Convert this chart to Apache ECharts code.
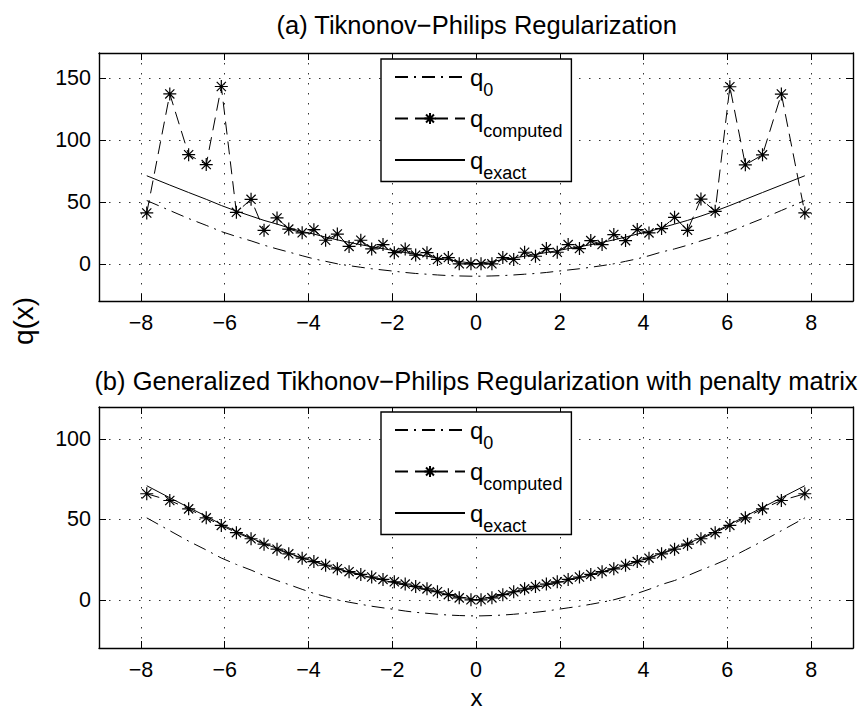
<!DOCTYPE html>
<html><head><meta charset="utf-8">
<script src="https://cdn.jsdelivr.net/npm/echarts@6/dist/echarts.min.js"></script>
<style>html,body{margin:0;padding:0;background:#fff}#c{width:862px;height:711px}</style>
</head><body><div id="c"></div>
<script>
// ---- data ----
const xNodes = [-7.86,-7.31,-6.86,-6.44,-6.08,-5.72,-5.37,-5.06,-4.75,-4.47,-4.15,-3.87,-3.59,-3.31,-3.03,-2.75,-2.49,-2.22,-1.95,-1.69,-1.44,-1.17,-0.92,-0.66,-0.40,-0.12,
                0.12,0.38,0.64,0.90,1.16,1.42,1.68,1.94,2.20,2.47,2.74,3.01,3.29,3.57,3.85,4.13,4.43,4.74,5.05,5.37,5.71,6.06,6.43,6.84,7.29,7.85];
const q0Vals = [51,43,36.5,31,26,22,18.5,15,12,9.5,6.5,4,2,0,-1.5,-2.8,-4,-5,-6,-7,-7.8,-8.4,-9,-9.5,-9.8,-10,
                -10,-9.8,-9.5,-9,-8.4,-7.8,-7,-6,-5,-4,-2.8,-1.5,0,2,4,6.5,9.5,12,15,18.5,22,26,31,36.5,43,51];
const xExact = [-7.86,-7.31,-6.86,-6.44,-6.08,-5.72,-5.37,-5.06,-4.75,-4.47,-4.15,-3.87,-3.59,-3.31,-3.03,-2.75,-2.49,-2.22,-1.95,-1.69,-1.44,-1.17,-0.92,-0.66,-0.40,-0.12,0,
                0.12,0.38,0.64,0.90,1.16,1.42,1.68,1.94,2.20,2.47,2.74,3.01,3.29,3.57,3.85,4.13,4.43,4.74,5.05,5.37,5.71,6.06,6.43,6.84,7.29,7.85];
const exactVals = [71,63.5,57.5,52,47,42.5,38.5,35,32,29,26,24,21.5,19.3,17.3,15.4,13.8,12.2,10.6,9.1,7.6,6.1,4.7,3.3,1.9,0.6,0,
                   0.6,1.9,3.3,4.7,6.1,7.6,9.1,10.6,12.2,13.8,15.4,17.3,19.3,21.5,24,26,29,32,35,38.5,42.5,47,52,57.5,63.5,71];
const computedA = [41,137,88,80,143,41.5,52,27,37,28,25,27.5,19,24,14,19,12,15.5,9,12,7,9,3.5,5,0,0,
                   0,0,5,3.5,9.3,6.1,12.3,9.3,15.5,12.3,18.7,15.5,23.6,18.7,27.6,24.9,28.4,37.5,27,52.2,42.3,142.8,79.8,87.9,136.9,41];
const computedB = [66,61.8,56.6,51,46.3,41.8,38,34.6,31.5,28.6,25.9,23.8,21.5,19.3,17.5,15.8,14.2,12.7,11.2,9.8,8.3,6.8,5,3.2,1.2,0,
                   0,1.2,3.2,5,6.8,8.3,9.8,11.2,12.7,14.2,15.8,17.5,19.3,21.5,23.8,25.9,28.6,31.5,34.6,38,41.8,46.3,51,56.6,61.8,66];
const xTicks = [-8,-6,-4,-2,0,2,4,6,8];
const yTicksA = [0,50,100,150];
const yTicksB = [0,50,100];
const titles = ['(a) Tiknonov\u2212Philips Regularization',
                '(b) Generalized Tikhonov\u2212Philips Regularization with penalty matrix'];
const seriesNames = ['q0','qcomputed','qexact'];
const subscripts = {q0:'0', qcomputed:'computed', qexact:'exact'};
const yName = 'q(x)';
const xName = 'x';

// ---- chart ----
const FONT = 'Liberation Sans';
const chart = echarts.init(document.getElementById('c'), null, {renderer:'svg'});
const fmt = v => String(v).replace('-', '\u2212');
const gridLine = {show:true, lineStyle:{color:'#333', width:1, type:[1.5,8.5]}};
const axLine = {show:true, onZero:false, lineStyle:{color:'#000', width:1.4}};
const NOFILL = 'rgba(0,0,0,0)';

function xAxes(gi){
  return [
    {type:'value', gridIndex:gi, position:'bottom', min:-9, max:9, splitNumber:9,
     axisLine:axLine,
     axisTick:{show:true, inside:true, length:7, customValues:xTicks, lineStyle:{color:'#000', width:1}},
     axisLabel:{show:true, customValues:xTicks, margin:11, fontSize:21.5, fontFamily:FONT, color:'#000', formatter:fmt},
     splitLine:gridLine},
    {type:'value', gridIndex:gi, position:'top', min:-9, max:9, splitNumber:9,
     axisLine:axLine,
     axisTick:{show:true, inside:true, length:7, customValues:xTicks, lineStyle:{color:'#000', width:1}},
     axisLabel:{show:false}, splitLine:{show:false}}
  ];
}
function yAxes(gi, min, max, split, ticks){
  return [
    {type:'value', gridIndex:gi, position:'left', min:min, max:max, splitNumber:split,
     axisLine:axLine,
     axisTick:{show:true, inside:true, length:7, customValues:ticks, lineStyle:{color:'#000', width:1}},
     axisLabel:{show:true, customValues:ticks, margin:8, fontSize:21.5, fontFamily:FONT, color:'#000', formatter:fmt},
     splitLine:gridLine},
    {type:'value', gridIndex:gi, position:'right', min:min, max:max, splitNumber:split,
     axisLine:axLine,
     axisTick:{show:true, inside:true, length:7, customValues:ticks, lineStyle:{color:'#000', width:1}},
     axisLabel:{show:false}, splitLine:{show:false}}
  ];
}
const pairs = (xs, ys) => xs.map((x,i)=>[x, ys[i]]);
const STAR = 'path://M0,-10L0,10M-10,0L10,0M-7.07,-7.07L7.07,7.07M-7.07,7.07L7.07,-7.07';

function seriesFor(gi, computed){
  const xi = gi*2, yi = gi*2;
  return [
    {name:seriesNames[0], type:'line', xAxisIndex:xi, yAxisIndex:yi, data:pairs(xNodes, q0Vals),
     symbol:'none', silent:true, animation:false,
     lineStyle:{color:'#000', width:1, type:[13,6,2,6]}, itemStyle:{color:NOFILL, borderColor:NOFILL, borderWidth:0}},
    {name:seriesNames[1], type:'line', xAxisIndex:xi, yAxisIndex:yi, data:pairs(xNodes, computed),
     symbol:STAR, symbolSize:13, showSymbol:true, silent:true, animation:false,
     lineStyle:{color:'#000', width:1, type:[13,7]},
     itemStyle:{color:'#000', borderColor:'#000', borderWidth:1.2}},
    {name:seriesNames[2], type:'line', xAxisIndex:xi, yAxisIndex:yi, data:pairs(xExact, exactVals),
     symbol:'none', silent:true, animation:false,
     lineStyle:{color:'#000', width:1, type:'solid'}, itemStyle:{color:NOFILL, borderColor:NOFILL, borderWidth:0}}
  ];
}
function legendAt(top){
  return {show:true, left:381, top:top, orient:'vertical', data:seriesNames,
    itemWidth:70, itemHeight:14, itemGap:8, padding:[6,9,0,13],
    backgroundColor:'#fff', borderColor:'#000', borderWidth:1.4, borderRadius:0,
    selectedMode:false,
    formatter: n => '{q|q}{s|' + subscripts[n] + '}',
    textStyle:{color:'#000', fontFamily:FONT,
      rich:{q:{fontSize:24, fontFamily:FONT, color:'#000'},
            s:{fontSize:18, fontFamily:FONT, color:'#000', padding:[25,0,0,0]}}}};
}

const option = {
  backgroundColor:'#fff',
  animation:false,
  grid:[{left:99, top:53, width:754, height:248}, {left:99, top:407, width:754, height:241}],
  xAxis:[...xAxes(0), ...xAxes(1)],
  yAxis:[...yAxes(0,-30,170,4,yTicksA), ...yAxes(1,-30,120,3,yTicksB)],
  legend:[legendAt(59), legendAt(412)],
  series:[...seriesFor(0, computedA), ...seriesFor(1, computedB)],
  graphic:[
    {type:'text', x:476.7, y:24.6, silent:true, style:{text:titles[0], fontSize:25.5, fontFamily:FONT, fill:'#000', textAlign:'center', textVerticalAlign:'middle'}},
    {type:'text', x:476, y:381.2, silent:true, style:{text:titles[1], fontSize:25.5, fontFamily:FONT, fill:'#000', textAlign:'center', textVerticalAlign:'middle'}},
    {type:'text', x:23.3, y:321, rotation:Math.PI/2, silent:true, style:{text:yName, fontSize:28, fontFamily:FONT, fill:'#000', textAlign:'center', textVerticalAlign:'middle'}},
    {type:'text', x:476.5, y:697, silent:true, style:{text:xName, fontSize:24, fontFamily:FONT, fill:'#000', textAlign:'center', textVerticalAlign:'middle'}}
  ]
};
chart.setOption(option);
</script></body></html>
